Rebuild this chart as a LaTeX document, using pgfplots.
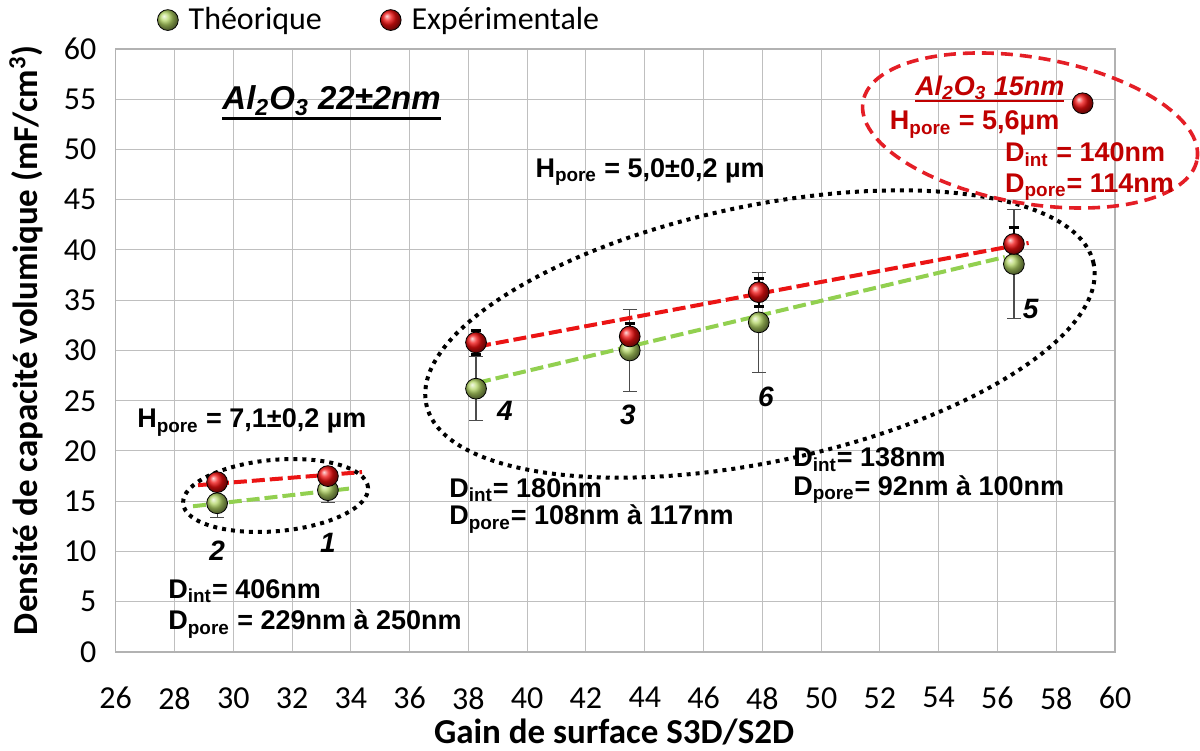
\documentclass[border=0pt]{standalone}
\usepackage{fontspec}
\setmainfont{Carlito}
\newfontfamily\arialf{Liberation Sans}
\usepackage{pgfplots}
\pgfplotsset{compat=1.18}

\definecolor{vert}{RGB}{178,212,100}
\definecolor{rouge}{RGB}{240,15,15}
\definecolor{vertline}{RGB}{146,208,80}
\definecolor{rougeline}{RGB}{235,20,20}
\definecolor{rougetxt}{RGB}{192,0,0}
\definecolor{rougeell}{RGB}{228,30,38}

\newcommand\ann{\arialf\bfseries\fontsize{13.5}{16}\selectfont}
\newcommand\num{\arialf\bfseries\itshape\fontsize{14}{16}\selectfont}
\newcommand\ind[1]{\textsubscript{#1}}
% underline: #1 depth, #2 thickness, #3 text
\newcommand\souligne[3]{\sbox0{#3}\rlap{\rule[#1]{\wd0}{#2}}\usebox0}

\begin{document}
\begin{tikzpicture}
\begin{axis}[
  scale only axis,
  width=499.65pt, height=301.5pt,
  xmin=26, xmax=60, ymin=0, ymax=60,
  xtick={26,28,...,60}, ytick={0,5,...,60},
  grid=major,
  major grid style={draw=black!25, line width=0.5pt},
  axis line style={draw=black!30, line width=0.6pt},
  major tick length=0pt,
  tick label style={font=\fontsize{16}{19}\selectfont},
  /pgf/number format/assume math mode=true,
  xticklabel style={anchor=north, inner sep=0pt, yshift=-17.5pt},
  yticklabel style={anchor=east, inner sep=0pt, xshift=-9.5pt},
  xlabel={Gain de surface S3D/S2D},
  ylabel={Densité de capacité volumique (mF/cm\textsuperscript{3})},
  label style={font=\bfseries\fontsize{17.5}{21}\selectfont},
  xlabel style={at={(axis description cs:0.4987,-0.151)}, anchor=base, inner sep=0pt},
  ylabel style={at={(axis description cs:-0.0779,0.517)}, anchor=base, inner sep=0pt},
  clip=false,
  legend columns=2,
  legend style={draw=none, fill=none, at={(axis description cs:0.041,1.048)},
    anchor=west, inner sep=0pt, font=\fontsize{16}{19}\selectfont,
    /tikz/every odd column/.append style={column sep=3pt},
    /tikz/every even column/.append style={column sep=27pt}},
]
% theoretical values
\addplot[only marks, mark=ball, mark size=5.2pt, mark options={ball color=vert},
  error bars/.cd, y dir=both, y explicit,
  error bar style={black!70, line width=0.6pt},
  error mark options={rotate=90, black!70, line width=0.6pt, mark size=3.5pt}]
  coordinates {
  (29.45,14.8) +- (0,1.4)
  (33.22,16.1) +- (0,1.2)
  (38.26,26.2) +- (0,3.2)
  (43.49,30.0) +- (0,4.1)
  (47.88,32.8) +- (0,5.0)
  (56.56,38.6) +- (0,5.4)
};
\addlegendentry{Théorique}
% experimental values
\addplot[only marks, mark=ball, mark size=5.2pt, mark options={ball color=rouge},
  error bars/.cd, y dir=both, y explicit,
  error bar style={black, line width=1.2pt},
  error mark options={rotate=90, black, line width=1.6pt, mark size=2.6pt}]
  coordinates {
  (29.45,16.9) +- (0,0.5)
  (33.22,17.5) +- (0,0.5)
  (38.26,30.8) +- (0,1.2)
  (43.49,31.4) +- (0,1.3)
  (47.88,35.8) +- (0,1.4)
  (56.56,40.6) +- (0,1.6)
};
\addlegendentry{Expérimentale}
\addplot[forget plot, only marks, mark=ball, mark size=5.2pt, mark options={ball color=rouge}]
  coordinates {(58.9,54.6)};

% trend lines
\addplot[forget plot, no markers, vertline, line width=2pt, dash pattern=on 6.5pt off 2.5pt]
  coordinates {(28.63,14.5) (34.07,16.3)};
\addplot[forget plot, no markers, rougeline, line width=2pt, dash pattern=on 6.5pt off 2.5pt]
  coordinates {(28.8,16.6) (34.38,17.9)};
\addplot[forget plot, no markers, vertline, line width=2pt, dash pattern=on 6.5pt off 2.5pt]
  coordinates {(38.33,26.8) (56.25,39.3)};
\addplot[forget plot, no markers, rougeline, line width=2pt, dash pattern=on 6.5pt off 2.5pt]
  coordinates {(38.33,30.4) (57.06,40.7)};

% ellipses
\draw[black, line width=2pt, dash pattern=on 2pt off 2.5pt, rotate around={5:(axis cs:31.44,15.57)}]
  (axis cs:31.44,15.57) ellipse [x radius=46.4pt, y radius=17.85pt];
\draw[black, line width=2pt, dash pattern=on 2pt off 2.5pt, rotate around={11.9:(axis cs:47.92,31.64)}]
  (axis cs:47.92,31.64) ellipse [x radius=170.5pt, y radius=64pt];
\draw[rougeell, line width=1.8pt, dash pattern=on 6pt off 3.5pt, rotate around={-9.8:(axis cs:57.11,51.89)}]
  (axis cs:57.11,51.89) ellipse [x radius=84.75pt, y radius=36.5pt];

% annotations
\begin{scope}[every node/.style={inner sep=0pt, anchor=base west}]
\node at (axis cs:29.62,53.93) {\arialf\bfseries\itshape\fontsize{16.5}{19}\selectfont\souligne{-5pt}{1.6pt}{Al\ind{2}O\ind{3} 22±2nm}};
\node at (axis cs:26.72,22.29) {\ann H\ind{pore} = 7,1±0,2 µm};
\node at (axis cs:27.78,5.37) {\ann D\ind{int}= 406nm};
\node at (axis cs:27.78,2.19) {\ann D\ind{pore} = 229nm à 250nm};
\node at (axis cs:40.27,47.26) {\ann H\ind{pore} = 5,0±0,2 µm};
\node at (axis cs:37.34,15.42) {\ann D\ind{int}= 180nm};
\node at (axis cs:37.34,12.64) {\ann D\ind{pore}= 108nm à 117nm};
\node at (axis cs:49.04,18.41) {\ann D\ind{int}= 138nm};
\node at (axis cs:49.04,15.62) {\ann D\ind{pore}= 92nm à 100nm};
\node[text=rougetxt] at (axis cs:53.19,55.42) {\arialf\bfseries\itshape\fontsize{13.5}{16}\selectfont\souligne{-3.5pt}{1.2pt}{Al\ind{2}O\ind{3} 15nm}};
\node[text=rougetxt] at (axis cs:52.33,51.94) {\ann H\ind{pore} = 5,6µm};
\node[text=rougetxt] at (axis cs:56.25,48.76) {\ann D\ind{int} = 140nm};
\node[text=rougetxt] at (axis cs:56.25,45.77) {\ann D\ind{pore}= 114nm};
\end{scope}
\begin{scope}[every node/.style={inner sep=0pt, anchor=base}]
\node at (axis cs:29.45,9.15) {\num 2};
\node at (axis cs:33.22,9.85) {\num 1};
\node at (axis cs:39.24,23.08) {\num 4};
\node at (axis cs:43.43,22.59) {\num 3};
\node at (axis cs:48.12,24.38) {\num 6};
\node at (axis cs:57.13,33.23) {\num 5};
\end{scope}

\coordinate (SW) at (rel axis cs:0,0);
\coordinate (NE) at (rel axis cs:1,1);
\end{axis}
\pgfresetboundingbox
\path[use as bounding box] ([shift={(-57.85pt,-49.5pt)}]SW) rectangle ([shift={(42.5pt,24.5pt)}]NE);
\end{tikzpicture}
\end{document}
